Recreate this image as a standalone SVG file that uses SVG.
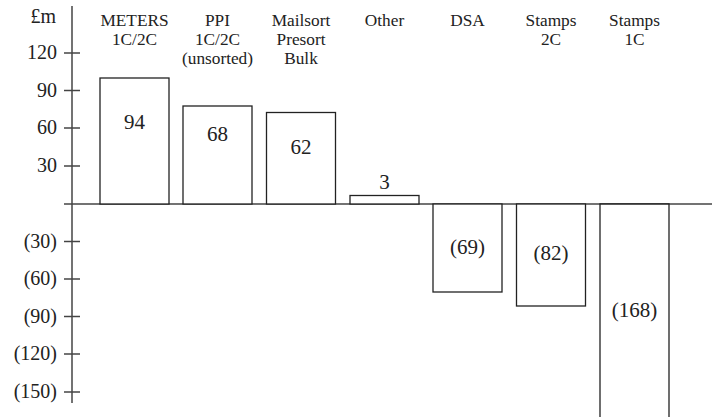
<svg xmlns="http://www.w3.org/2000/svg" width="713" height="417" viewBox="0 0 713 417">
<style>
.hd{font-size:17.3px;text-anchor:middle;fill:#222}
.ax{font-size:20px;text-anchor:end;fill:#222}
.val{font-size:21px;text-anchor:middle;fill:#222}
.bar{fill:#fff;stroke:#222;stroke-width:1.3}
.axis{stroke:#444;stroke-width:1.5;fill:none}
</style>
<rect width="713" height="417" fill="#fff"/>
<g id="axes">
<line class="axis" x1="72" y1="6" x2="72" y2="403"/>
<line class="axis" x1="64" y1="204" x2="712" y2="204"/>
<line class="axis" x1="64" y1="53" x2="80" y2="53"/>
<line class="axis" x1="64" y1="90.5" x2="80" y2="90.5"/>
<line class="axis" x1="64" y1="128" x2="80" y2="128"/>
<line class="axis" x1="64" y1="166" x2="80" y2="166"/>
<line class="axis" x1="64" y1="241.5" x2="80" y2="241.5"/>
<line class="axis" x1="64" y1="279" x2="80" y2="279"/>
<line class="axis" x1="64" y1="316.5" x2="80" y2="316.5"/>
<line class="axis" x1="64" y1="354" x2="80" y2="354"/>
<line class="axis" x1="64" y1="392" x2="80" y2="392"/>
<text class="ax" x="56" y="23" style="font-family:'Liberation Serif',serif">£m</text>
<text class="ax" x="57" y="59" style="font-family:'Liberation Serif',serif">120</text>
<text class="ax" x="57" y="96.5" style="font-family:'Liberation Serif',serif">90</text>
<text class="ax" x="57" y="134" style="font-family:'Liberation Serif',serif">60</text>
<text class="ax" x="57" y="172" style="font-family:'Liberation Serif',serif">30</text>
<text class="ax" x="57" y="247.5" style="font-family:'Liberation Serif',serif">(30)</text>
<text class="ax" x="57" y="285" style="font-family:'Liberation Serif',serif">(60)</text>
<text class="ax" x="57" y="322.5" style="font-family:'Liberation Serif',serif">(90)</text>
<text class="ax" x="57" y="360" style="font-family:'Liberation Serif',serif">(120)</text>
<text class="ax" x="57" y="398" style="font-family:'Liberation Serif',serif">(150)</text>
</g>
<g id="meters">
<rect class="bar" x="100" y="78" width="69" height="126"/>
<text class="hd" x="134.5" y="26" style="font-family:'Liberation Serif',serif">METERS</text>
<text class="hd" x="134.5" y="45" style="font-family:'Liberation Serif',serif">1C/2C</text>
<text class="val" x="134.5" y="129" style="font-family:'Liberation Serif',serif">94</text>
</g>
<g id="ppi">
<rect class="bar" x="183" y="106" width="69" height="98"/>
<text class="hd" x="217.5" y="26" style="font-family:'Liberation Serif',serif">PPI</text>
<text class="hd" x="217.5" y="45" style="font-family:'Liberation Serif',serif">1C/2C</text>
<text class="hd" x="217.5" y="64" style="font-family:'Liberation Serif',serif">(unsorted)</text>
<text class="val" x="217.5" y="141" style="font-family:'Liberation Serif',serif">68</text>
</g>
<g id="mailsort">
<rect class="bar" x="266.5" y="112.5" width="69" height="91.5"/>
<text class="hd" x="301" y="26" style="font-family:'Liberation Serif',serif">Mailsort</text>
<text class="hd" x="301" y="45" style="font-family:'Liberation Serif',serif">Presort</text>
<text class="hd" x="301" y="64" style="font-family:'Liberation Serif',serif">Bulk</text>
<text class="val" x="301" y="154" style="font-family:'Liberation Serif',serif">62</text>
</g>
<g id="other">
<rect class="bar" x="350" y="195.5" width="69" height="8.5"/>
<text class="hd" x="384.5" y="26" style="font-family:'Liberation Serif',serif">Other</text>
<text class="val" x="384.5" y="189" style="font-family:'Liberation Serif',serif">3</text>
</g>
<g id="dsa">
<rect class="bar" x="433" y="204" width="69" height="88"/>
<text class="hd" x="467.5" y="26" style="font-family:'Liberation Serif',serif">DSA</text>
<text class="val" x="467.5" y="254" style="font-family:'Liberation Serif',serif">(69)</text>
</g>
<g id="stamps2c">
<rect class="bar" x="516.5" y="204" width="69" height="102"/>
<text class="hd" x="551" y="26" style="font-family:'Liberation Serif',serif">Stamps</text>
<text class="hd" x="551" y="45" style="font-family:'Liberation Serif',serif">2C</text>
<text class="val" x="551" y="260" style="font-family:'Liberation Serif',serif">(82)</text>
</g>
<g id="stamps1c">
<path class="bar" d="M600 417V204H669V417"/>
<text class="hd" x="634.5" y="26" style="font-family:'Liberation Serif',serif">Stamps</text>
<text class="hd" x="634.5" y="45" style="font-family:'Liberation Serif',serif">1C</text>
<text class="val" x="634.5" y="317" style="font-family:'Liberation Serif',serif">(168)</text>
</g>
</svg>
